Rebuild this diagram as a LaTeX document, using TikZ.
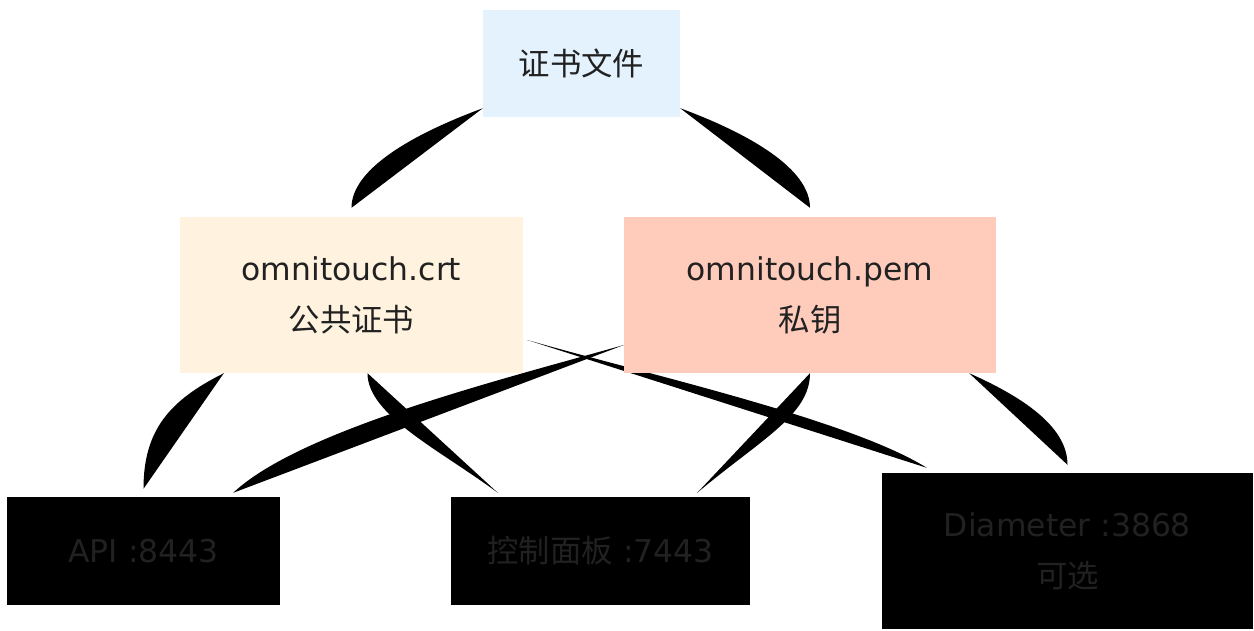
\documentclass[tikz,border=0pt]{standalone}
\usepackage{fontspec}
\setmainfont{DejaVu Sans}
\newfontfamily\cjk{Noto Sans CJK SC}
\usetikzlibrary{calc,backgrounds}
\definecolor{ink}{HTML}{212121}
\definecolor{cafill}{HTML}{E3F2FD}
\definecolor{crtfill}{HTML}{FFF3E0}
\definecolor{pemfill}{HTML}{FFCCBC}
\tikzset{
  box/.style={draw=none, inner sep=0pt, align=center, text=ink,
    font=\fontsize{31.4}{51}\selectfont},
  cabox/.style={box, fill=cafill, minimum width=197pt, minimum height=107pt},
  crtbox/.style={box, fill=crtfill, minimum width=343pt, minimum height=156pt},
  pembox/.style={box, fill=pemfill, minimum width=372pt, minimum height=156pt},
  portbox/.style={box, fill=black, minimum height=108pt},
  link/.style={fill=black, draw=none},
}

\begin{document}
\begin{tikzpicture}[x=1pt, y=-1pt]
  \useasboundingbox (0,0) rectangle (1254,630);

  % ---------------- files ----------------
  \node[cabox] (ca) at (581.5,63.5) {{\cjk 证书文件}};
  \node[crtbox] (crt) at (351.5,295) {omnitouch.crt\\{\cjk 公共证书}};
  \node[pembox] (pem) at (810,295) {omnitouch.pem\\{\cjk 私钥}};

  % ---------------- listeners ----------------
  \node[portbox, minimum width=273pt] (api) at (143.5,551) {API :8443};
  \node[portbox, minimum width=299pt] (webui) at (600.5,551) {{\cjk 控制面板} :7443};
  \node[portbox, minimum width=371pt, minimum height=156pt] (diam) at (1067.5,551)
    {Diameter :3868\\{\cjk 可选}};

  % ---------------- links ----------------
  \begin{scope}[on background layer]
    \fill[white] (0,0) rectangle (1254,630);
    \fill[link] ($(ca.south west)+(0,-9)$) .. controls +(-73,27) and +(0,-38)
      .. ($(crt.north)+(0,-9)$) -- cycle;
    \fill[link] ($(ca.south east)+(0,-9)$) .. controls +(73,27) and +(0,-38)
      .. ($(pem.north)+(0,-9)$) -- cycle;
    \fill[link] ($(crt.south west)+(44,0)$) .. controls +(-54,27) and +(0,-59)
      .. ($(api.north)+(0,-8)$) -- cycle;
    \fill[link] ($(crt.south)+(16,0)$) .. controls +(0,42) and +(-58,-43)
      .. ($(webui.north west)+(47,-4)$) -- cycle;
    \fill[link] ($(pem.west)+(0,50)$) .. controls +(-124,35) and +(67,-63)
      .. ($(api.north east)+(-47,-4)$) -- cycle;
    \fill[link] ($(crt.east)+(4,45)$) .. controls +(123,35) and +(-77,-48)
      .. ($(diam.north west)+(45,-5)$) -- cycle;
    \fill[link] (pem.south) .. controls +(0,42) and +(63,-53)
      .. ($(webui.north east)+(-53,-4)$) -- cycle;
    \fill[link] ($(pem.south east)+(-27,0)$) .. controls +(61,27) and +(0,-35)
      .. ($(diam.north)+(0,-8)$) -- cycle;
  \end{scope}
\end{tikzpicture}
\end{document}
